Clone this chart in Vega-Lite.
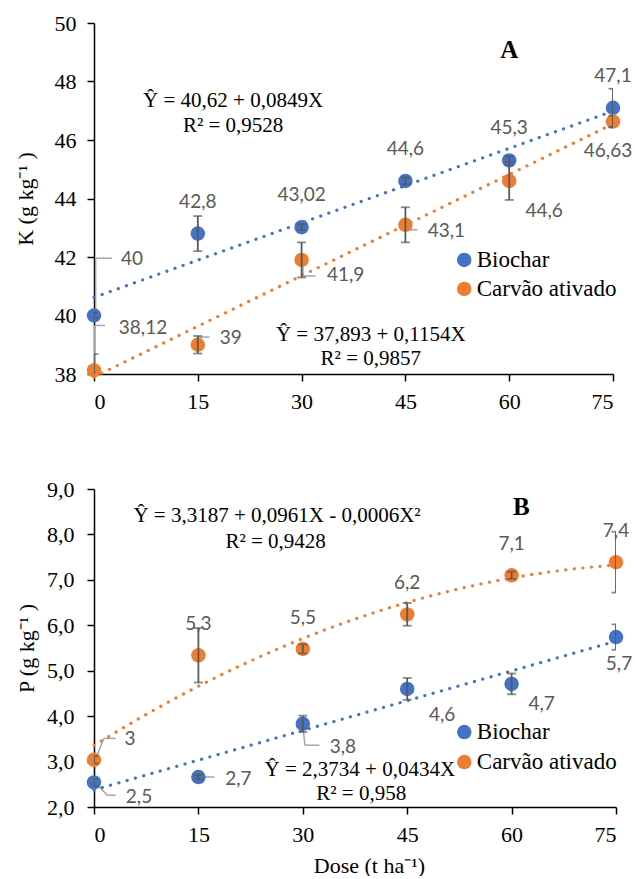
{
  "$schema": "https://vega.github.io/schema/vega-lite/v6.json",
  "padding": {"left": 14, "top": 12, "right": 0, "bottom": 0},
  "spacing": 66,
  "columns": 1,
  "config": {
    "locale": {"number": {"decimal": ",", "thousands": ".", "grouping": [3], "currency": ["", ""]}},
    "view": {"stroke": null},
    "font": "Liberation Serif",
    "axis": {
      "grid": false, "domainColor": "black", "domainWidth": 1.5, "tickColor": "black", "tickWidth": 1.5, "tickSize": 7,
      "labelFont": "Liberation Serif", "labelFontSize": 22, "labelColor": "black",
      "titleFont": "Liberation Serif", "titleFontSize": 22, "titleFontWeight": "normal", "titleColor": "black"
    },
    "axisX": {"labelPadding": 10, "titlePadding": 10},
    "rule": {"color": "#A6A6A6", "strokeWidth": 1.5}
  },
  "datasets": {
    "K": [
      {"dose": 0, "s": "Biochar", "v": 40, "e": 0.1},
      {"dose": 15, "s": "Biochar", "v": 42.8, "e": 0.6},
      {"dose": 30, "s": "Biochar", "v": 43.02, "e": 0.1},
      {"dose": 45, "s": "Biochar", "v": 44.6, "e": 0.12},
      {"dose": 60, "s": "Biochar", "v": 45.3, "e": 0.15},
      {"dose": 75, "s": "Biochar", "v": 47.1, "e": 0.65},
      {"dose": 0, "s": "Carvão ativado", "v": 38.12, "e": 0.56},
      {"dose": 15, "s": "Carvão ativado", "v": 39, "e": 0.3},
      {"dose": 30, "s": "Carvão ativado", "v": 41.9, "e": 0.6},
      {"dose": 45, "s": "Carvão ativado", "v": 43.1, "e": 0.6},
      {"dose": 60, "s": "Carvão ativado", "v": 44.6, "e": 0.65},
      {"dose": 75, "s": "Carvão ativado", "v": 46.63, "e": 0.2}
    ],
    "P": [
      {"dose": 0, "s": "Biochar", "v": 2.54, "e": 0.08},
      {"dose": 15, "s": "Biochar", "v": 2.66, "e": 0.05},
      {"dose": 30, "s": "Biochar", "v": 3.83, "e": 0.18},
      {"dose": 45, "s": "Biochar", "v": 4.6, "e": 0.24},
      {"dose": 60, "s": "Biochar", "v": 4.71, "e": 0.23},
      {"dose": 75, "s": "Biochar", "v": 5.74, "e": 0.28},
      {"dose": 0, "s": "Carvão ativado", "v": 3.04, "e": 0.08},
      {"dose": 15, "s": "Carvão ativado", "v": 5.34, "e": 0.6},
      {"dose": 30, "s": "Carvão ativado", "v": 5.48, "e": 0.1},
      {"dose": 45, "s": "Carvão ativado", "v": 6.24, "e": 0.25},
      {"dose": 60, "s": "Carvão ativado", "v": 7.1, "e": 0.08},
      {"dose": 75, "s": "Carvão ativado", "v": 7.39, "e": 0.67}
    ]
  },
  "resolve": {"scale": {"color": "independent", "stroke": "independent", "x": "independent", "y": "independent"}, "axis": {"x": "independent", "y": "independent"}},
  "concat": [
    {
      "width": 519, "height": 351,
      "layer": [
        {"data": {"values": [{}]}, "mark": {"type": "rule"}, "encoding": {"x": {"datum": 0.24, "type": "quantitative"}, "y": {"datum": 40, "type": "quantitative"}, "y2": {"datum": 41.96}}},
        {"data": {"values": [{}]}, "mark": {"type": "rule"}, "encoding": {"x": {"datum": 0.24, "type": "quantitative"}, "x2": {"datum": 2.6}, "y": {"datum": 41.96, "type": "quantitative"}}},
        {"data": {"values": [{}]}, "mark": {"type": "rule"}, "encoding": {"x": {"datum": 0.1, "type": "quantitative"}, "y": {"datum": 38.12, "type": "quantitative"}, "y2": {"datum": 39.66}}},
        {"data": {"values": [{}]}, "mark": {"type": "rule"}, "encoding": {"x": {"datum": 0.1, "type": "quantitative"}, "x2": {"datum": 1.6}, "y": {"datum": 39.66, "type": "quantitative"}}},
        {"data": {"values": [{}]}, "mark": {"type": "rule"}, "encoding": {"x": {"datum": 15, "type": "quantitative"}, "x2": {"datum": 16.7}, "y": {"datum": 39.26, "type": "quantitative"}}},
        {"data": {"values": [{}]}, "mark": {"type": "rule"}, "encoding": {"x": {"datum": 30.2, "type": "quantitative"}, "y": {"datum": 41.9, "type": "quantitative"}, "y2": {"datum": 41.35}}},
        {"data": {"values": [{}]}, "mark": {"type": "rule"}, "encoding": {"x": {"datum": 30.2, "type": "quantitative"}, "x2": {"datum": 32.0}, "y": {"datum": 41.35, "type": "quantitative"}}},
        {"data": {"values": [{}]}, "mark": {"type": "rule"}, "encoding": {"x": {"datum": 45, "type": "quantitative"}, "x2": {"datum": 46.75}, "y": {"datum": 42.93, "type": "quantitative"}}},
        {
          "data": {"name": "K"},
          "encoding": {
            "x": {"field": "dose", "type": "quantitative", "title": null, "scale": {"domain": [0, 75], "nice": false}, "axis": {"values": [0, 15, 30, 45, 60, 75]}},
            "y": {"field": "v", "type": "quantitative", "title": "K (g kg⁻¹ )", "scale": {"domain": [38, 50], "nice": false, "zero": false}, "axis": {"values": [38, 40, 42, 44, 46, 48, 50], "labelPadding": 11, "titlePadding": 17}}
          },
          "layer": [
            {
              "transform": [{"regression": "v", "on": "dose", "groupby": ["s"], "extent": [0, 75]}],
              "mark": {"type": "line", "strokeDash": [0.1, 8.5], "strokeCap": "round", "strokeWidth": 3.2},
              "encoding": {
                "stroke": {"field": "s", "type": "nominal", "scale": {"domain": ["Biochar", "Carvão ativado"], "range": ["#4472C4", "#ED7D31"]}, "legend": null}
              }
            },
            {
              "mark": {"type": "circle", "size": 210, "opacity": 1},
              "encoding": {
                "color": {"field": "s", "type": "nominal", "scale": {"domain": ["Biochar", "Carvão ativado"], "range": ["#4472C4", "#ED7D31"]}, "legend": null}
              }
            },
            {
              "mark": {"type": "errorbar", "ticks": true, "size": 9, "thickness": 1.8, "color": "#595959", "clip": true},
              "encoding": {"yError": {"field": "e"}}
            },
            {"transform": [{"filter": "datum.s == 'Biochar' && datum.dose >= 15"}], "mark": {"type": "text", "font": "Lato", "fontSize": 19, "color": "#595959", "align": "center", "baseline": "middle", "dy": -32}, "encoding": {"text": {"field": "v", "type": "quantitative", "format": ".2~f"}}},
            {"transform": [{"filter": "datum.s == 'Biochar' && datum.dose == 0"}], "mark": {"type": "text", "font": "Lato", "fontSize": 19, "color": "#595959", "align": "center", "baseline": "middle", "dx": 38, "dy": -57}, "encoding": {"text": {"field": "v", "type": "quantitative", "format": ".2~f"}}},
            {"transform": [{"filter": "datum.s != 'Biochar' && datum.dose == 0"}], "mark": {"type": "text", "font": "Lato", "fontSize": 19, "color": "#595959", "align": "center", "baseline": "middle", "dx": 49, "dy": -42}, "encoding": {"text": {"field": "v", "type": "quantitative", "format": ".2~f"}}},
            {"transform": [{"filter": "datum.s != 'Biochar' && datum.dose == 15"}], "mark": {"type": "text", "font": "Lato", "fontSize": 19, "color": "#595959", "align": "center", "baseline": "middle", "dx": 33, "dy": -7}, "encoding": {"text": {"field": "v", "type": "quantitative", "format": ".2~f"}}},
            {"transform": [{"filter": "datum.s != 'Biochar' && datum.dose == 30"}], "mark": {"type": "text", "font": "Lato", "fontSize": 19, "color": "#595959", "align": "center", "baseline": "middle", "dx": 44, "dy": 15}, "encoding": {"text": {"field": "v", "type": "quantitative", "format": ".2~f"}}},
            {"transform": [{"filter": "datum.s != 'Biochar' && datum.dose == 45"}], "mark": {"type": "text", "font": "Lato", "fontSize": 19, "color": "#595959", "align": "center", "baseline": "middle", "dx": 41, "dy": 6}, "encoding": {"text": {"field": "v", "type": "quantitative", "format": ".2~f"}}},
            {"transform": [{"filter": "datum.s != 'Biochar' && datum.dose == 60"}], "mark": {"type": "text", "font": "Lato", "fontSize": 19, "color": "#595959", "align": "center", "baseline": "middle", "dx": 35, "dy": 30}, "encoding": {"text": {"field": "v", "type": "quantitative", "format": ".2~f"}}},
            {"transform": [{"filter": "datum.s != 'Biochar' && datum.dose == 75"}], "mark": {"type": "text", "font": "Lato", "fontSize": 19, "color": "#595959", "align": "center", "baseline": "middle", "dx": -5, "dy": 29}, "encoding": {"text": {"field": "v", "type": "quantitative", "format": ".2~f"}}}
          ]
        },
        {"data": {"values": [{}]}, "mark": {"type": "text", "font": "Liberation Serif", "fontSize": 21, "color": "black", "align": "center", "baseline": "middle"}, "encoding": {"x": {"datum": 20.1, "type": "quantitative"}, "y": {"datum": 47.33, "type": "quantitative"}, "text": {"value": "Ŷ  = 40,62 + 0,0849X"}}},
        {"data": {"values": [{}]}, "mark": {"type": "text", "font": "Liberation Serif", "fontSize": 21, "color": "black", "align": "center", "baseline": "middle"}, "encoding": {"x": {"datum": 20.1, "type": "quantitative"}, "y": {"datum": 46.47, "type": "quantitative"}, "text": {"value": "R² = 0,9528"}}},
        {"data": {"values": [{}]}, "mark": {"type": "text", "font": "Liberation Serif", "fontSize": 21, "color": "black", "align": "center", "baseline": "middle"}, "encoding": {"x": {"datum": 40.0, "type": "quantitative"}, "y": {"datum": 39.34, "type": "quantitative"}, "text": {"value": "Ŷ =  37,893 + 0,1154X"}}},
        {"data": {"values": [{}]}, "mark": {"type": "text", "font": "Liberation Serif", "fontSize": 21, "color": "black", "align": "center", "baseline": "middle"}, "encoding": {"x": {"datum": 40.0, "type": "quantitative"}, "y": {"datum": 38.52, "type": "quantitative"}, "text": {"value": "R² = 0,9857"}}},
        {"data": {"values": [{}]}, "mark": {"type": "text", "font": "Liberation Serif", "fontSize": 25, "fontWeight": "bold", "color": "black", "align": "center", "baseline": "middle"}, "encoding": {"x": {"datum": 60.0, "type": "quantitative"}, "y": {"datum": 49.07, "type": "quantitative"}, "text": {"value": "A"}}},
        {"data": {"values": [{}]}, "mark": {"type": "circle", "size": 210, "opacity": 1, "color": "#4472C4"}, "encoding": {"x": {"datum": 53.5, "type": "quantitative"}, "y": {"datum": 41.9, "type": "quantitative"}}},
        {"data": {"values": [{}]}, "mark": {"type": "circle", "size": 210, "opacity": 1, "color": "#ED7D31"}, "encoding": {"x": {"datum": 53.5, "type": "quantitative"}, "y": {"datum": 40.91, "type": "quantitative"}}},
        {"data": {"values": [{}]}, "mark": {"type": "text", "font": "Liberation Serif", "fontSize": 23, "color": "black", "align": "left", "baseline": "middle"}, "encoding": {"x": {"datum": 55.3, "type": "quantitative"}, "y": {"datum": 41.9, "type": "quantitative"}, "text": {"value": "Biochar"}}},
        {"data": {"values": [{}]}, "mark": {"type": "text", "font": "Liberation Serif", "fontSize": 23, "color": "black", "align": "left", "baseline": "middle"}, "encoding": {"x": {"datum": 55.3, "type": "quantitative"}, "y": {"datum": 40.91, "type": "quantitative"}, "text": {"value": "Carvão ativado"}}}
      ]
    },
    {
      "width": 522, "height": 318,
      "layer": [
        {"data": {"values": [{}]}, "mark": {"type": "rule"}, "encoding": {"x": {"datum": 0.2, "type": "quantitative"}, "y": {"datum": 3.04, "type": "quantitative"}, "x2": {"datum": 1.4}, "y2": {"datum": 3.51}}},
        {"data": {"values": [{}]}, "mark": {"type": "rule"}, "encoding": {"x": {"datum": 1.4, "type": "quantitative"}, "x2": {"datum": 3.1}, "y": {"datum": 3.51, "type": "quantitative"}}},
        {"data": {"values": [{}]}, "mark": {"type": "rule"}, "encoding": {"x": {"datum": 0.2, "type": "quantitative"}, "y": {"datum": 2.54, "type": "quantitative"}, "x2": {"datum": 1.9}, "y2": {"datum": 2.26}}},
        {"data": {"values": [{}]}, "mark": {"type": "rule"}, "encoding": {"x": {"datum": 1.9, "type": "quantitative"}, "x2": {"datum": 3.1}, "y": {"datum": 2.26, "type": "quantitative"}}},
        {"data": {"values": [{}]}, "mark": {"type": "rule"}, "encoding": {"x": {"datum": 15, "type": "quantitative"}, "x2": {"datum": 17.3}, "y": {"datum": 2.66, "type": "quantitative"}}},
        {"data": {"values": [{}]}, "mark": {"type": "rule"}, "encoding": {"x": {"datum": 30, "type": "quantitative"}, "y": {"datum": 3.83, "type": "quantitative"}, "x2": {"datum": 30.3}, "y2": {"datum": 3.36}}},
        {"data": {"values": [{}]}, "mark": {"type": "rule"}, "encoding": {"x": {"datum": 30.3, "type": "quantitative"}, "x2": {"datum": 32.4}, "y": {"datum": 3.36, "type": "quantitative"}}},
        {
          "data": {"name": "P"},
          "encoding": {
            "x": {"field": "dose", "type": "quantitative", "title": "Dose (t ha⁻¹)", "scale": {"domain": [0, 75], "nice": false}, "axis": {"values": [0, 15, 30, 45, 60, 75], "titleX": 275}},
            "y": {"field": "v", "type": "quantitative", "title": "P (g kg⁻¹ )", "scale": {"domain": [2, 9], "nice": false, "zero": false}, "axis": {"values": [2, 3, 4, 5, 6, 7, 8, 9], "format": ".1f", "labelPadding": 13, "titlePadding": 8}}
          },
          "layer": [
            {
              "transform": [{"filter": "datum.s == 'Biochar'"}, {"regression": "v", "on": "dose", "groupby": ["s"], "extent": [0, 75]}],
              "mark": {"type": "line", "strokeDash": [0.1, 8.5], "strokeCap": "round", "strokeWidth": 3.2},
              "encoding": {
                "stroke": {"field": "s", "type": "nominal", "scale": {"domain": ["Biochar", "Carvão ativado"], "range": ["#4472C4", "#ED7D31"]}, "legend": null}
              }
            },
            {
              "transform": [{"filter": "datum.s != 'Biochar'"}, {"regression": "v", "on": "dose", "groupby": ["s"], "method": "poly", "order": 2, "extent": [0, 75]}],
              "mark": {"type": "line", "strokeDash": [0.1, 8.5], "strokeCap": "round", "strokeWidth": 3.2},
              "encoding": {
                "stroke": {"field": "s", "type": "nominal", "legend": null}
              }
            },
            {
              "mark": {"type": "circle", "size": 210, "opacity": 1},
              "encoding": {
                "color": {"field": "s", "type": "nominal", "scale": {"domain": ["Biochar", "Carvão ativado"], "range": ["#4472C4", "#ED7D31"]}, "legend": null}
              }
            },
            {
              "mark": {"type": "errorbar", "ticks": true, "size": 9, "thickness": 1.8, "color": "#595959", "clip": true},
              "encoding": {"yError": {"field": "e"}}
            },
            {"transform": [{"filter": "datum.s != 'Biochar' && datum.dose >= 15"}], "mark": {"type": "text", "font": "Lato", "fontSize": 19, "color": "#595959", "align": "center", "baseline": "middle", "dy": -31}, "encoding": {"text": {"field": "v", "type": "quantitative", "format": ".1~f"}}},
            {"transform": [{"filter": "datum.s != 'Biochar' && datum.dose == 0"}], "mark": {"type": "text", "font": "Lato", "fontSize": 19, "color": "#595959", "align": "center", "baseline": "middle", "dx": 36, "dy": -21}, "encoding": {"text": {"field": "v", "type": "quantitative", "format": ".1~f"}}},
            {"transform": [{"filter": "datum.s == 'Biochar' && datum.dose == 0"}], "mark": {"type": "text", "font": "Lato", "fontSize": 19, "color": "#595959", "align": "center", "baseline": "middle", "dx": 45, "dy": 15}, "encoding": {"text": {"field": "v", "type": "quantitative", "format": ".1~f"}}},
            {"transform": [{"filter": "datum.s == 'Biochar' && datum.dose == 15"}], "mark": {"type": "text", "font": "Lato", "fontSize": 19, "color": "#595959", "align": "center", "baseline": "middle", "dx": 40, "dy": 2}, "encoding": {"text": {"field": "v", "type": "quantitative", "format": ".1~f"}}},
            {"transform": [{"filter": "datum.s == 'Biochar' && datum.dose == 30"}], "mark": {"type": "text", "font": "Lato", "fontSize": 19, "color": "#595959", "align": "center", "baseline": "middle", "dx": 40, "dy": 23}, "encoding": {"text": {"field": "v", "type": "quantitative", "format": ".1~f"}}},
            {"transform": [{"filter": "datum.s == 'Biochar' && datum.dose == 45"}], "mark": {"type": "text", "font": "Lato", "fontSize": 19, "color": "#595959", "align": "center", "baseline": "middle", "dx": 35, "dy": 26}, "encoding": {"text": {"field": "v", "type": "quantitative", "format": ".1~f"}}},
            {"transform": [{"filter": "datum.s == 'Biochar' && datum.dose == 60"}], "mark": {"type": "text", "font": "Lato", "fontSize": 19, "color": "#595959", "align": "center", "baseline": "middle", "dx": 30, "dy": 20}, "encoding": {"text": {"field": "v", "type": "quantitative", "format": ".1~f"}}},
            {"transform": [{"filter": "datum.s == 'Biochar' && datum.dose == 75"}], "mark": {"type": "text", "font": "Lato", "fontSize": 19, "color": "#595959", "align": "center", "baseline": "middle", "dx": 3, "dy": 27}, "encoding": {"text": {"field": "v", "type": "quantitative", "format": ".1~f"}}}
          ]
        },
        {"data": {"values": [{}]}, "mark": {"type": "text", "font": "Liberation Serif", "fontSize": 21, "color": "black", "align": "center", "baseline": "middle"}, "encoding": {"x": {"datum": 26.3, "type": "quantitative"}, "y": {"datum": 8.4, "type": "quantitative"}, "text": {"value": "Ŷ =  3,3187 + 0,0961X  - 0,0006X²"}}},
        {"data": {"values": [{}]}, "mark": {"type": "text", "font": "Liberation Serif", "fontSize": 21, "color": "black", "align": "center", "baseline": "middle"}, "encoding": {"x": {"datum": 26.1, "type": "quantitative"}, "y": {"datum": 7.84, "type": "quantitative"}, "text": {"value": "R² = 0,9428"}}},
        {"data": {"values": [{}]}, "mark": {"type": "text", "font": "Liberation Serif", "fontSize": 21, "color": "black", "align": "center", "baseline": "middle"}, "encoding": {"x": {"datum": 38.2, "type": "quantitative"}, "y": {"datum": 2.81, "type": "quantitative"}, "text": {"value": "Ŷ = 2,3734 + 0,0434X"}}},
        {"data": {"values": [{}]}, "mark": {"type": "text", "font": "Liberation Serif", "fontSize": 21, "color": "black", "align": "center", "baseline": "middle"}, "encoding": {"x": {"datum": 38.4, "type": "quantitative"}, "y": {"datum": 2.28, "type": "quantitative"}, "text": {"value": "R² = 0,958"}}},
        {"data": {"values": [{}]}, "mark": {"type": "text", "font": "Liberation Serif", "fontSize": 25, "fontWeight": "bold", "color": "black", "align": "center", "baseline": "middle"}, "encoding": {"x": {"datum": 61.4, "type": "quantitative"}, "y": {"datum": 8.6, "type": "quantitative"}, "text": {"value": "B"}}},
        {"data": {"values": [{}]}, "mark": {"type": "circle", "size": 210, "opacity": 1, "color": "#4472C4"}, "encoding": {"x": {"datum": 53.2, "type": "quantitative"}, "y": {"datum": 3.65, "type": "quantitative"}}},
        {"data": {"values": [{}]}, "mark": {"type": "circle", "size": 210, "opacity": 1, "color": "#ED7D31"}, "encoding": {"x": {"datum": 53.2, "type": "quantitative"}, "y": {"datum": 2.99, "type": "quantitative"}}},
        {"data": {"values": [{}]}, "mark": {"type": "text", "font": "Liberation Serif", "fontSize": 23, "color": "black", "align": "left", "baseline": "middle"}, "encoding": {"x": {"datum": 55.0, "type": "quantitative"}, "y": {"datum": 3.65, "type": "quantitative"}, "text": {"value": "Biochar"}}},
        {"data": {"values": [{}]}, "mark": {"type": "text", "font": "Liberation Serif", "fontSize": 23, "color": "black", "align": "left", "baseline": "middle"}, "encoding": {"x": {"datum": 55.0, "type": "quantitative"}, "y": {"datum": 2.99, "type": "quantitative"}, "text": {"value": "Carvão ativado"}}}
      ]
    }
  ]
}
